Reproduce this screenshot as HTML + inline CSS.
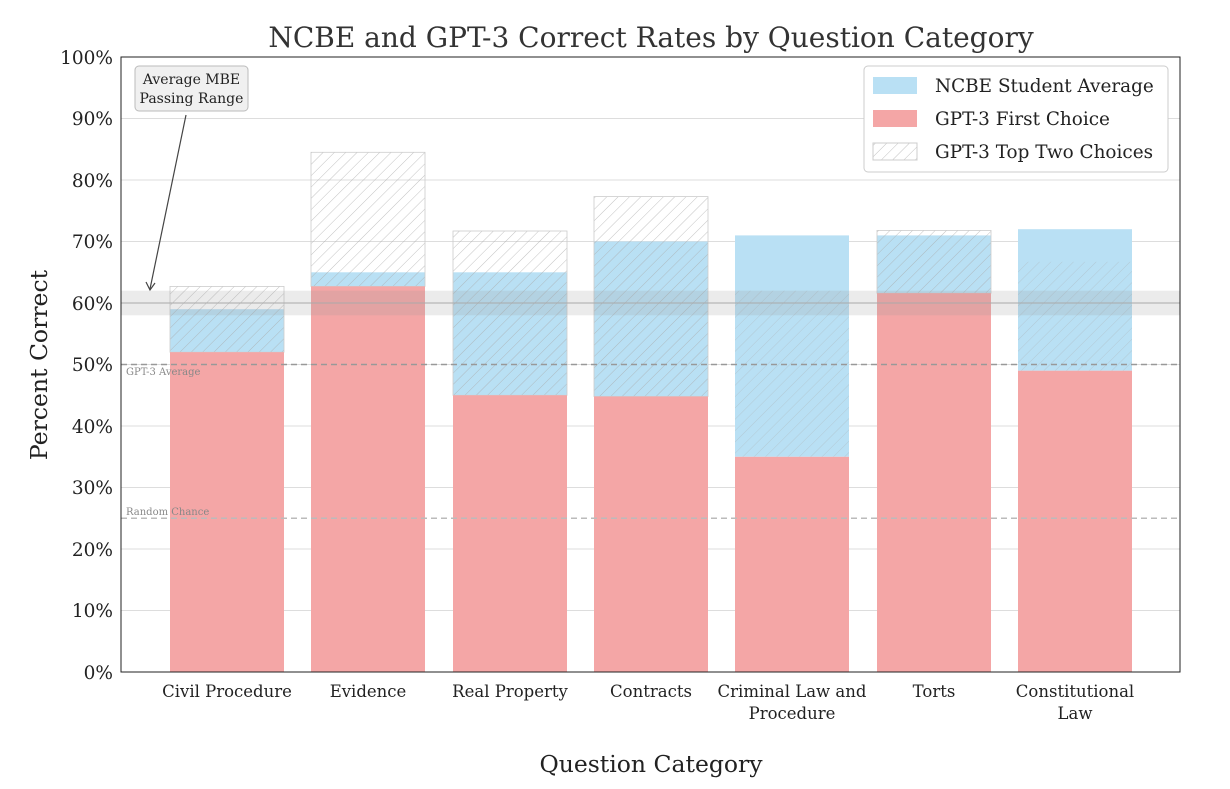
<!DOCTYPE html>
<html><head><style>body{margin:0;background:#fff}svg{display:block}text{font-family:"DejaVu Serif","Liberation Serif",serif;fill:#222}</style></head>
<body>
<svg width="1230" height="789" viewBox="0 0 1230 789" xmlns="http://www.w3.org/2000/svg">
<defs>
<pattern id="h" width="8" height="8" patternUnits="userSpaceOnUse" patternTransform="rotate(45)">
<line x1="0" y1="0" x2="0" y2="8" stroke="#aaa" stroke-width="1" opacity="0.7"/>
</pattern>
</defs>
<g stroke="#ddd" stroke-width="1">
<line x1="121" x2="1180" y1="610.5" y2="610.5"/><line x1="121" x2="1180" y1="549" y2="549"/>
<line x1="121" x2="1180" y1="487.5" y2="487.5"/><line x1="121" x2="1180" y1="426" y2="426"/>
<line x1="121" x2="1180" y1="364.5" y2="364.5"/><line x1="121" x2="1180" y1="303" y2="303"/>
<line x1="121" x2="1180" y1="241.5" y2="241.5"/><line x1="121" x2="1180" y1="180" y2="180"/>
<line x1="121" x2="1180" y1="118.5" y2="118.5"/>
</g>
<g fill="#b9e0f4">
<rect x="170" y="309.2" width="114" height="43"/>
<rect x="311" y="272.3" width="114" height="14.1"/>
<rect x="453" y="272.3" width="114" height="123"/>
<rect x="594" y="241.5" width="114" height="155"/>
<rect x="735" y="235.4" width="114" height="221.4"/>
<rect x="877" y="235.4" width="114" height="57.8"/>
<rect x="1018" y="229.2" width="114" height="141.5"/>
</g>
<g fill="url(#h)" stroke="#ccc" stroke-width="0.8">
<rect x="170" y="286.4" width="114" height="65.8"/>
<rect x="311" y="152.3" width="114" height="134.1"/>
<rect x="453" y="231" width="114" height="164.3"/>
<rect x="594" y="196.6" width="114" height="199.9"/>
<rect x="735" y="290.7" width="114" height="166.1" stroke="none" opacity="0.6"/>
<rect x="877" y="230.4" width="114" height="62.8"/>
<rect x="1018" y="261.8" width="114" height="108.9" stroke="none" opacity="0.6"/>
</g>
<g fill="#f4a6a6">
<rect x="170" y="352.2" width="114" height="319.8"/>
<rect x="311" y="286.4" width="114" height="385.6"/>
<rect x="453" y="395.3" width="114" height="276.7"/>
<rect x="594" y="396.5" width="114" height="275.5"/>
<rect x="735" y="456.8" width="114" height="215.2"/>
<rect x="877" y="293.2" width="114" height="378.8"/>
<rect x="1018" y="370.7" width="114" height="301.3"/>
</g>
<rect x="121" y="290.7" width="1059" height="24.6" fill="#999" opacity="0.2"/>
<line x1="121" x2="1180" y1="303" y2="303" stroke="#aaa" stroke-width="1"/>
<line x1="121" x2="1180" y1="364.5" y2="364.5" stroke="#999" stroke-width="1.5" stroke-dasharray="6,4"/>
<line x1="121" x2="1180" y1="518.2" y2="518.2" stroke="#bbb" stroke-width="1.5" stroke-dasharray="6,4"/>
<text x="126" y="375" font-size="10" style="fill:#888">GPT-3 Average</text>
<text x="126" y="515" font-size="10" style="fill:#888">Random Chance</text>
<rect x="121" y="57" width="1059" height="615" fill="none" stroke="#222" stroke-width="1"/>
<rect x="135" y="66" width="113" height="45" rx="4" fill="#f0f0f0" stroke="#bbb"/>
<text x="191.5" y="84" font-size="14" text-anchor="middle">Average MBE</text>
<text x="191.5" y="103" font-size="14" text-anchor="middle">Passing Range</text>
<line x1="186" y1="115" x2="150" y2="289" stroke="#444" stroke-width="1.2"/>
<path d="M146 282 L150 290 L155 283" fill="none" stroke="#444" stroke-width="1.2"/>
<g font-size="18.5" text-anchor="end">
<text x="113" y="679">0%</text><text x="113" y="617">10%</text><text x="113" y="556">20%</text>
<text x="113" y="494">30%</text><text x="113" y="433">40%</text><text x="113" y="371">50%</text>
<text x="113" y="310">60%</text><text x="113" y="248">70%</text><text x="113" y="187">80%</text>
<text x="113" y="125">90%</text><text x="113" y="64">100%</text>
</g>
<g font-size="16.5" text-anchor="middle">
<text x="227" y="697">Civil Procedure</text><text x="368" y="697">Evidence</text>
<text x="510" y="697">Real Property</text><text x="651" y="697">Contracts</text>
<text x="792" y="697">Criminal Law and</text><text x="792" y="719">Procedure</text>
<text x="934" y="697">Torts</text>
<text x="1075" y="697">Constitutional</text><text x="1075" y="719">Law</text>
</g>
<text x="651" y="772" font-size="23.5" text-anchor="middle">Question Category</text>
<text transform="translate(47,365) rotate(-90)" font-size="23.5" text-anchor="middle">Percent Correct</text>
<text x="651" y="47" font-size="28" text-anchor="middle" style="fill:#333">NCBE and GPT-3 Correct Rates by Question Category</text>
<rect x="864" y="66" width="304" height="106" rx="4" fill="#fff" stroke="#ccc"/>
<rect x="873" y="77" width="44" height="17" fill="#b9e0f4"/>
<rect x="873" y="110" width="44" height="17" fill="#f4a6a6"/>
<rect x="873" y="143" width="44" height="17" fill="url(#h)" stroke="#ccc"/>
<g font-size="18.4" style="fill:#333"><text x="935" y="92">NCBE Student Average</text>
<text x="935" y="125">GPT-3 First Choice</text><text x="935" y="158">GPT-3 Top Two Choices</text></g>
</svg>
</body></html>
